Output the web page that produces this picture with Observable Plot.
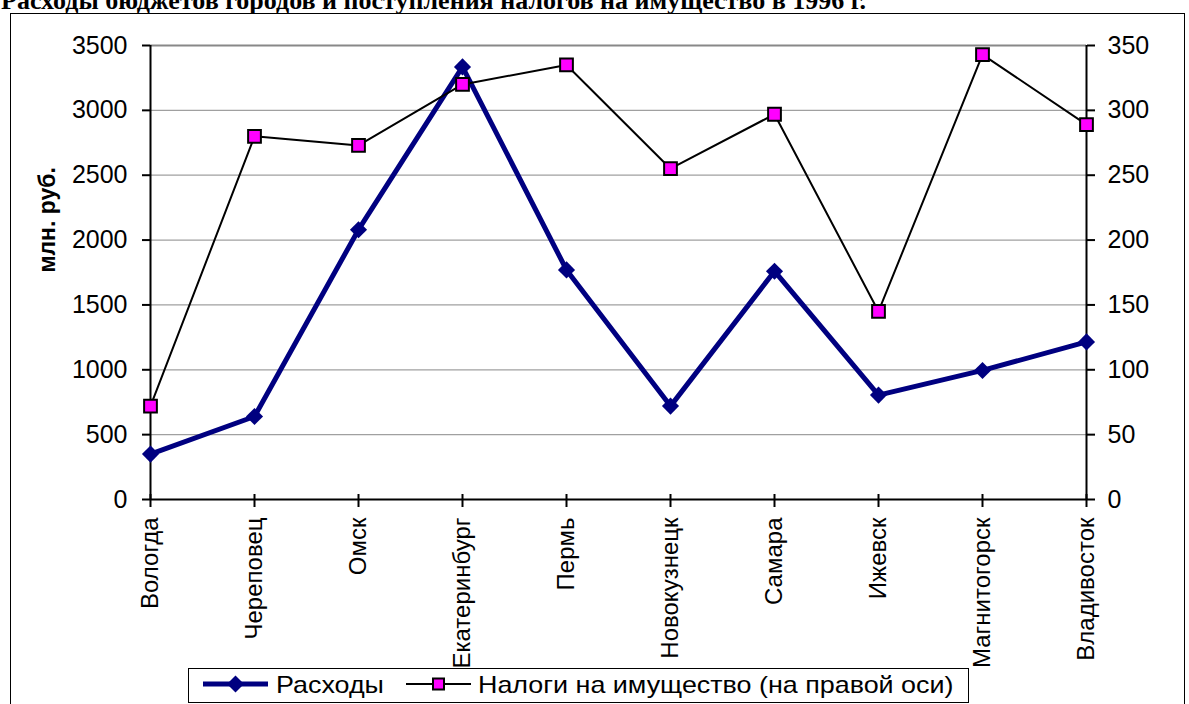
<!DOCTYPE html>
<html>
<head>
<meta charset="utf-8">
<script src="https://cdn.jsdelivr.net/npm/d3@7"></script>
<script src="https://cdn.jsdelivr.net/npm/@observablehq/plot@0.6"></script>
<style>
  html, body { margin: 0; padding: 0; background: white; overflow: hidden; }
  #page { position: relative; width: 1189px; height: 704px; overflow: hidden; font-family: "Liberation Sans", Arial, sans-serif; }
  #title { position: absolute; left: 1px; top: -12px; line-height: 26px; font-family: "Liberation Serif", "Times New Roman", serif; font-weight: bold; font-size: 26px; white-space: nowrap; color: black; }
  #frame { position: absolute; left: 10px; top: 13px; width: 1175px; height: 720px; border: 1.5px solid black; box-sizing: border-box; }
  #chart { position: absolute; left: 0; top: 0; }
  #legend { position: absolute; left: 188px; top: 668px; width: 781px; height: 35px; border: 1.5px solid black; box-sizing: border-box; background: white; }
  #legend .item { position: absolute; top: 0; height: 32px; line-height: 32px; font-size: 24px; white-space: nowrap; transform: scaleX(1.12); transform-origin: left center; }
  #legend svg { position: absolute; top: 0; }
</style>
</head>
<body>
<div id="page">
  <div id="frame"></div>
  <div id="title"></div>
  <div id="chart"></div>
  <div id="legend"></div>
</div>
<script>
const titleText = "Расходы бюджетов городов и поступления налогов на имущество в 1996 г.";
const cities = ["Вологда", "Череповец", "Омск", "Екатеринбург", "Пермь", "Новокузнецк", "Самара", "Ижевск", "Магнитогорск", "Владивосток"];
const expenses = [350, 640, 2080, 3335, 1770, 720, 1760, 805, 995, 1215];
const taxes = [72, 280, 273, 320, 335, 255, 297, 145, 343, 289];
const leftTicks = [0, 500, 1000, 1500, 2000, 2500, 3000, 3500];
const rightTicks = [0, 50, 100, 150, 200, 250, 300, 350];
const yLabel = "млн. руб.";
const seriesNames = ["Расходы", "Налоги на имущество (на правой оси)"];
const colors = { expense: "#000080", tax: "#ff00ff" };

const ratio = leftTicks[leftTicks.length - 1] / rightTicks[rightTicks.length - 1];
const yDomain = [leftTicks[0], leftTicks[leftTicks.length - 1]];
const data = cities.map((c, i) => ({ city: c, expense: expenses[i], tax: taxes[i] }));

document.getElementById("title").textContent = titleText;

const chart = Plot.plot({
  width: 1189,
  height: 704,
  marginLeft: 150,
  marginRight: 103,
  marginTop: 45,
  marginBottom: 205,
  style: { background: "none", fontFamily: "'Liberation Sans', Arial, sans-serif", color: "black", overflow: "visible" },
  x: { type: "point", domain: cities, padding: 0 },
  y: { domain: yDomain },
  marks: [
    Plot.ruleY(leftTicks.slice(1, -1), { stroke: "#a0a0a0", strokeWidth: 1.2 }),
    Plot.ruleY(leftTicks.slice(-1), { stroke: "#888888", strokeWidth: 2 }),
    Plot.ruleX([cities[0], cities[cities.length - 1]], { y1: yDomain[0], y2: yDomain[1], stroke: "black", strokeWidth: 2 }),
    Plot.ruleY([yDomain[0]], { stroke: "black", strokeWidth: 2 }),
    Plot.axisY({ anchor: "left", ticks: leftTicks, tickFormat: d => String(d), tickSize: 8, tickPadding: 15, fontSize: 25, strokeWidth: 2, label: null }),
    Plot.axisY({ anchor: "right", ticks: leftTicks, tickFormat: d => String(d / ratio), tickSize: 8, tickPadding: 13, fontSize: 25, strokeWidth: 2, label: null }),
    Plot.axisX({ anchor: "bottom", tickRotate: -90, tickSize: 13, tickPadding: 10, dy: -5, fontSize: 24, strokeWidth: 2, label: null }),
    Plot.text([yLabel], { frameAnchor: "left", dx: -103, rotate: -90, fontWeight: "bold", fontSize: 23, fill: "black" }),
    Plot.line(data, { x: "city", y: "expense", stroke: colors.expense, strokeWidth: 5 }),
    Plot.dot(data, { x: "city", y: "expense", symbol: "diamond2", r: 7.7, fill: colors.expense, stroke: "none" }),
    Plot.line(data, { x: "city", y: d => d.tax * ratio, stroke: "black", strokeWidth: 2 }),
    Plot.dot(data, { x: "city", y: d => d.tax * ratio, symbol: "square", r: 7.2, fill: colors.tax, stroke: "black", strokeWidth: 2 })
  ]
});
document.getElementById("chart").appendChild(chart);

// legend
const legend = document.getElementById("legend");
const ns = "http://www.w3.org/2000/svg";
function sample(left, kind) {
  const svg = document.createElementNS(ns, "svg");
  svg.setAttribute("width", 70); svg.setAttribute("height", 32);
  svg.style.left = left + "px";
  const line = document.createElementNS(ns, "line");
  line.setAttribute("x1", 2); line.setAttribute("x2", 67); line.setAttribute("y1", 15); line.setAttribute("y2", 15);
  if (kind === "expense") {
    line.setAttribute("stroke", colors.expense); line.setAttribute("stroke-width", 5);
    svg.appendChild(line);
    const p = document.createElementNS(ns, "path");
    p.setAttribute("d", "M34.5,6.5L43,15L34.5,23.5L26,15Z");
    p.setAttribute("fill", colors.expense);
    svg.appendChild(p);
  } else {
    line.setAttribute("stroke", "black"); line.setAttribute("stroke-width", 2);
    svg.appendChild(line);
    const r = document.createElementNS(ns, "rect");
    r.setAttribute("x", 29); r.setAttribute("y", 9.5); r.setAttribute("width", 11); r.setAttribute("height", 11);
    r.setAttribute("fill", colors.tax); r.setAttribute("stroke", "black"); r.setAttribute("stroke-width", 2);
    svg.appendChild(r);
  }
  legend.appendChild(svg);
}
function label(left, text) {
  const d = document.createElement("div");
  d.className = "item"; d.style.left = left + "px"; d.textContent = text;
  legend.appendChild(d);
}
sample(12, "expense");
label(87, seriesNames[0]);
sample(215, "tax");
label(289, seriesNames[1]);
</script>
</body>
</html>
